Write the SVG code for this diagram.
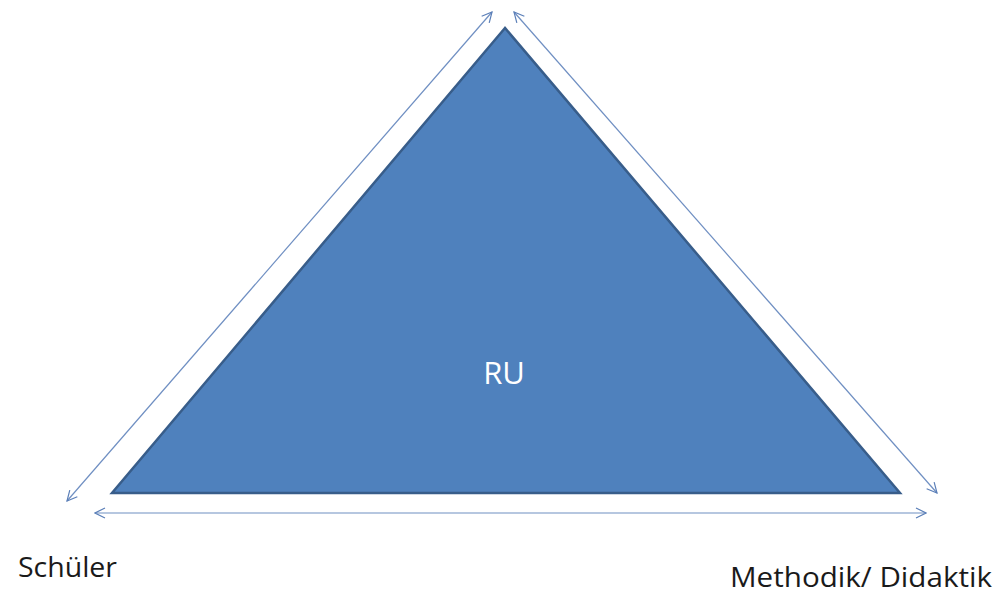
<svg xmlns="http://www.w3.org/2000/svg" width="1003" height="596" viewBox="0 0 1003 596">
<defs>
<marker id="ah" viewBox="0 0 12 12" refX="11" refY="6" markerWidth="12" markerHeight="12" markerUnits="userSpaceOnUse" orient="auto-start-reverse">
<path d="M1,1 L11,6 L1,11" fill="none" stroke="#5b7fb8" stroke-width="1.2"/>
</marker>
</defs>
<style>
.lbl{font-family:"Open Sans","Liberation Sans",sans-serif;font-size:27px;fill:#1a1a1a}
.conn{stroke:#6f8fc2;stroke-width:1.2;fill:none;marker-start:url(#ah);marker-end:url(#ah)}
</style>
<rect width="1003" height="596" fill="#ffffff"/>
<g id="triangle">
<polygon points="505,28 112,493 900,493" fill="#4f81bd" stroke="#385d8a" stroke-width="2.5"/>
<text x="504" y="384" text-anchor="middle" font-family="'Open Sans','Liberation Sans',sans-serif" font-size="31" fill="#ffffff">RU</text>
</g>
<g id="connectors">
<line class="conn" x1="67" y1="501" x2="492" y2="12"/>
<line class="conn" x1="514" y1="12" x2="937" y2="493"/>
<line class="conn" x1="95" y1="513" x2="926" y2="513"/>
</g>
<g id="schueler"><text class="lbl" x="18" y="577" textLength="99" lengthAdjust="spacingAndGlyphs">Schüler</text></g>
<g id="methodik"><text class="lbl" x="730" y="587" textLength="262" lengthAdjust="spacingAndGlyphs">Methodik/ Didaktik</text></g>
</svg>
